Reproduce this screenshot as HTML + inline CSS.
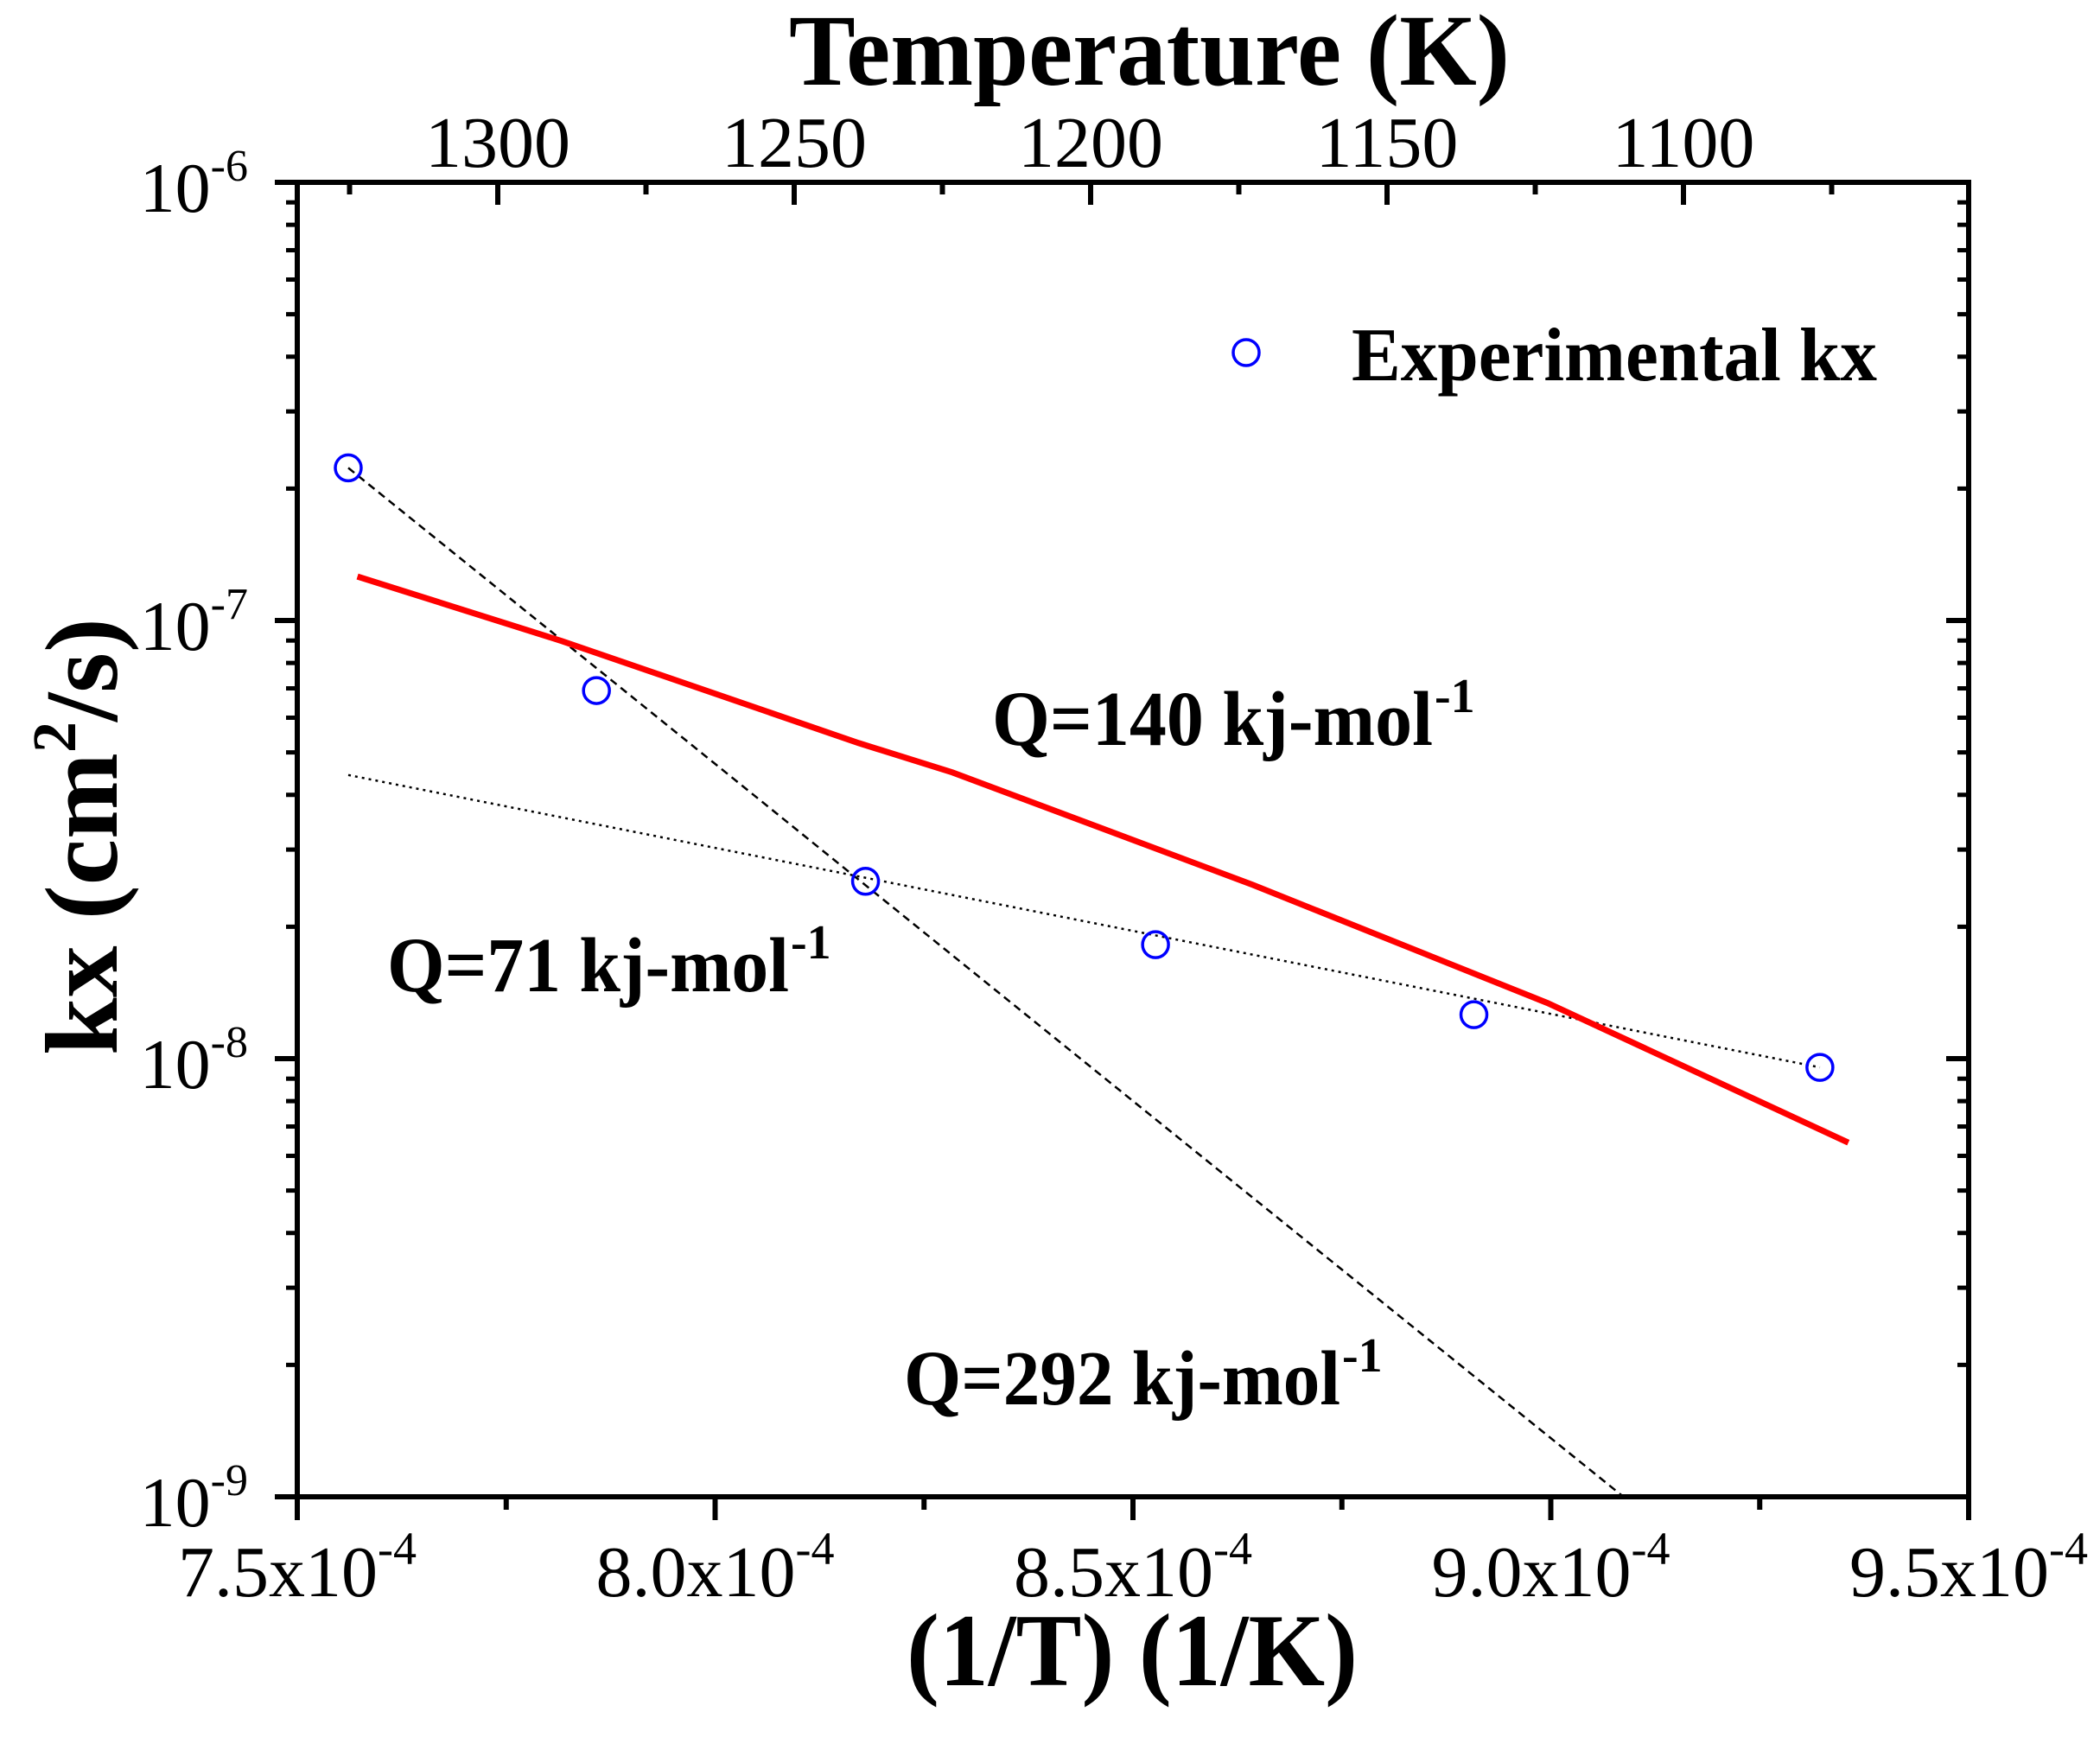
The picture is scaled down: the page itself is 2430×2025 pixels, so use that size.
<!DOCTYPE html>
<html><head><meta charset="utf-8"><style>
html,body{margin:0;padding:0;background:#fff;}
svg{display:block;}
text{font-family:"Liberation Serif",serif;fill:#000;}
</style></head><body>
<svg id="chart" width="2430" height="2025" viewBox="0 0 2430 2025" xmlns="http://www.w3.org/2000/svg">
<g id="grid-layer"></g>
</svg>
<script>
// ---- data ----
const expX = [7.561, 7.858, 8.180, 8.527, 8.908, 9.322];          // 1/T in 1e-4
const expY = [2.23e-7, 6.92e-8, 2.54e-8, 1.82e-8, 1.26e-8, 9.55e-9];
const fit140X = [7.572, 7.817, 8.172, 8.284, 8.644, 8.996, 9.356];
const fit140Y = [1.26e-7, 8.97e-8, 5.25e-8, 4.50e-8, 2.49e-8, 1.34e-8, 6.43e-9];
const fit292X = [7.561, 9.087];
const fit292Y = [2.23e-7, 1.0e-9];
const fit71X = [7.561, 9.322];
const fit71Y = [4.44e-8, 9.55e-9];
const xTicks = [7.5, 8.0, 8.5, 9.0, 9.5];
const xTickLabels = ["7.5x10", "8.0x10", "8.5x10", "9.0x10", "9.5x10"];
const yDecades = [-6, -7, -8, -9];
const tTicks = [1300, 1250, 1200, 1150, 1100];

// ---- axes ----
const L = 344, R = 2278, T = 211, B = 1732;
const X0 = 7.5, X1 = 9.5, Ymax = -6, Ymin = -9;
const sx = v => L + (v - X0) / (X1 - X0) * (R - L);
const sy = v => T + (Ymax - Math.log10(v)) / (Ymax - Ymin) * (B - T);
const tx = t => 576 + (1300 - t) / 50 * 343;

const svg = document.getElementById('chart');
const NS = 'http://www.w3.org/2000/svg';
function mk(tag, attrs, parent) {
  const e = document.createElementNS(NS, tag);
  for (const k in attrs) e.setAttribute(k, attrs[k]);
  (parent || svg).appendChild(e);
  return e;
}
function line(x1, y1, x2, y2, w) {
  return mk('line', {x1, y1, x2, y2, stroke: '#000', 'stroke-width': w});
}

const frame = mk('rect', {x: L, y: T, width: R - L, height: B - T, fill: 'none', stroke: '#000', 'stroke-width': 6});



for (let d = -9; d <= -6; d++) {
  const y = sy(Math.pow(10, d));
  const t1 = line(L - 26, y, L, y, 6);
  
  
  const t2 = line(R, y, R - 26, y, 6);
  
  
  if (d < -6) {
    for (let m = 2; m <= 9; m++) {
      const ym = sy(m * Math.pow(10, d));
      const a = line(L - 13, ym, L, ym, 5);
      
      
      const b = line(R, ym, R - 13, ym, 5);
      
      
    }
  }
}
yDecades.forEach(d => {
  const y = sy(Math.pow(10, d));
  const t = mk('text', {x: 287, y: y + 34, 'font-size': 82, 'text-anchor': 'end'});
  
  
  const a = mk('tspan', {}, t); a.textContent = '10';
  const b = mk('tspan', {'font-size': 52, dy: -36}, t); b.textContent = String(d);
});

for (let v = 7.5; v <= 9.501; v += 0.25) {
  const x = sx(v);
  const major = Math.abs(v * 2 - Math.round(v * 2)) < 1e-6;
  const t = line(x, B, x, B + (major ? 27 : 15), 6);
  
  
}
xTicks.forEach((v, i) => {
  const t = mk('text', {x: sx(v), y: 1847, 'font-size': 84, 'text-anchor': 'middle'});
  
  
  const a = mk('tspan', {}, t); a.textContent = xTickLabels[i];
  const b = mk('tspan', {'font-size': 54, dy: -37}, t); b.textContent = '-4';
});

for (let tK = 1325; tK >= 1075; tK -= 25) {
  const x = tx(tK);
  if (x < L || x > R) continue;
  const major = tK % 50 === 0;
  const t = line(x, T, x, T + (major ? 26 : 14), 6);
  
  
}
tTicks.forEach(tK => {
  const t = mk('text', {x: tx(tK), y: 193, 'font-size': 84, 'text-anchor': 'middle'});
  
  
  t.textContent = String(tK);
});

function poly(xs, ys, attrs, name) {
  const pts = xs.map((v, i) => sx(v).toFixed(1) + ',' + sy(ys[i]).toFixed(1)).join(' ');
  const p = mk('polyline', Object.assign({points: pts, fill: 'none'}, attrs));
  
  
  return p;
}
poly(fit292X, fit292Y, {stroke: '#000', 'stroke-width': 2.5, 'stroke-dasharray': '9,6'}, 'fit-line-q292');
poly(fit71X, fit71Y, {stroke: '#000', 'stroke-width': 2.5, 'stroke-dasharray': '3,5'}, 'fit-line-q71');
poly(fit140X, fit140Y, {stroke: '#ff0000', 'stroke-width': 7}, 'fit-line-q140');
expX.forEach((v, i) => {
  const c = mk('circle', {cx: sx(v), cy: sy(expY[i]), r: 15, fill: 'none', stroke: '#0000ff', 'stroke-width': 3.5});
  
  
});

const lm = mk('circle', {cx: 1442, cy: 408, r: 15, fill: 'none', stroke: '#0000ff', 'stroke-width': 3.5});


const lt = mk('text', {x: 1564, y: 440, 'font-size': 88, 'font-weight': 'bold', textLength: 608, lengthAdjust: 'spacingAndGlyphs'});


lt.textContent = 'Experimental kx';

function qLabel(x, y, main, w, name) {
  const g = mk('g', {});
  
  
  const t = mk('text', {x, y, 'font-size': 90, 'font-weight': 'bold', textLength: w, lengthAdjust: 'spacingAndGlyphs'}, g);
  t.textContent = main;
  const s = mk('text', {x: x + w + 2, y: y - 38, 'font-size': 56, 'font-weight': 'bold'}, g);
  s.textContent = '-1';
}
qLabel(1148, 862, 'Q=140 kj-mol', 510, 'q140-label');
qLabel(448, 1147, 'Q=71 kj-mol', 465, 'q71-label');
qLabel(1046, 1625, 'Q=292 kj-mol', 505, 'q292-label');

const tt = mk('text', {x: 1330, y: 98, 'font-size': 118, 'font-weight': 'bold', 'text-anchor': 'middle', textLength: 834, lengthAdjust: 'spacingAndGlyphs'});


tt.textContent = 'Temperature (K)';
const bt = mk('text', {x: 1310, y: 1950, 'font-size': 120, 'font-weight': 'bold', 'text-anchor': 'middle', textLength: 522, lengthAdjust: 'spacingAndGlyphs'});


bt.textContent = '(1/T) (1/K)';
const yt = mk('text', {x: 0, y: 0, 'font-size': 120, 'font-weight': 'bold', 'text-anchor': 'middle', transform: 'translate(135,968) rotate(-90)'});


const y1 = mk('tspan', {}, yt); y1.textContent = 'kx (cm';
const y2 = mk('tspan', {'font-size': 72, dy: -48}, yt); y2.textContent = '2';
const y3 = mk('tspan', {dy: 48}, yt); y3.textContent = '/s)';
</script>
</body></html>
